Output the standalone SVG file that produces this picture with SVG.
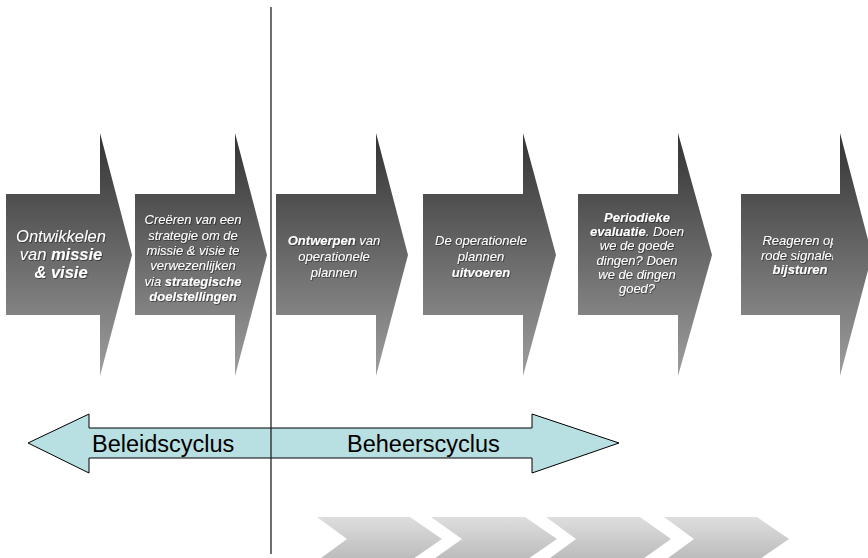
<svg xmlns="http://www.w3.org/2000/svg" width="868" height="558" viewBox="0 0 868 558">
  <defs>
    <linearGradient id="gDark" gradientUnits="userSpaceOnUse" x1="0" y1="133" x2="0" y2="376">
      <stop offset="0" stop-color="#333333"/>
      <stop offset="1" stop-color="#9e9e9e"/>
    </linearGradient>
    <linearGradient id="gLight" gradientUnits="userSpaceOnUse" x1="0" y1="517" x2="0" y2="561">
      <stop offset="0" stop-color="#dedede"/>
      <stop offset="1" stop-color="#bababa"/>
    </linearGradient>
    <filter id="sh" x="-10%" y="-10%" width="120%" height="130%">
      <feDropShadow dx="0.8" dy="0.8" stdDeviation="0.4" flood-color="#000" flood-opacity="0.55"/>
    </filter>
    <clipPath id="clip6"><rect x="740" y="200" width="93" height="100"/></clipPath>
  </defs>
  <style>
    .big { fill: url(#gDark); }
    .chev { fill: url(#gLight); }
    .t { font-family: "Liberation Sans", Arial, sans-serif; font-style: italic; fill: #ffffff; text-anchor: middle; filter: url(#sh); }
    .s13 { font-size: 13px; }
    .s17 { font-size: 16.5px; }
    .b { font-weight: bold; }
    .cyc { fill: #b8dfe1; stroke: #000000; stroke-width: 1; }
    .ct { font-family: "Liberation Sans", Arial, sans-serif; font-size: 23.5px; fill: #000000; }
    .vline { stroke: #222222; stroke-width: 1.3; fill: none; }
  </style>

  <g id="step1">
    <path class="big" d="M6,194 H100 V133 L132,255 L100,376 V315 H6 Z"/>
    <text class="t s17" x="61" y="242">Ontwikkelen</text>
    <text class="t s17" x="61" y="260">van <tspan class="b">missie</tspan></text>
    <text class="t s17 b" x="61" y="278">&amp; visie</text>
  </g>

  <g id="step2">
    <path class="big" d="M135,194 H235 V133 L267,255 L235,376 V315 H135 Z"/>
    <text class="t s13" x="193" y="224">Creëren van een</text>
    <text class="t s13" x="193" y="239.5">strategie om de</text>
    <text class="t s13" x="193" y="255">missie &amp; visie te</text>
    <text class="t s13" x="193" y="270">verwezenlijken</text>
    <text class="t s13" x="193" y="285.5">via <tspan class="b">strategische</tspan></text>
    <text class="t s13 b" x="193" y="301">doelstellingen</text>
  </g>

  <g id="step3">
    <path class="big" d="M276,194 H376 V133 L408,255 L376,376 V315 H276 Z"/>
    <text class="t s13" x="334" y="245"><tspan class="b">Ontwerpen</tspan> van</text>
    <text class="t s13" x="334" y="261">operationele</text>
    <text class="t s13" x="334" y="277">plannen</text>
  </g>

  <g id="step4">
    <path class="big" d="M423,194 H523 V133 L556,255 L523,376 V315 H423 Z"/>
    <text class="t s13" x="481" y="245">De operationele</text>
    <text class="t s13" x="481" y="261">plannen</text>
    <text class="t s13 b" x="481" y="277">uitvoeren</text>
  </g>

  <g id="step5">
    <path class="big" d="M578,194 H678 V133 L712,255 L678,376 V315 H578 Z"/>
    <text class="t s13 b" x="637" y="221.5">Periodieke</text>
    <text class="t s13" x="637" y="236"><tspan class="b">evaluatie</tspan>. Doen</text>
    <text class="t s13" x="637" y="250">we de goede</text>
    <text class="t s13" x="637" y="264.5">dingen? Doen</text>
    <text class="t s13" x="637" y="278.5">we de dingen</text>
    <text class="t s13" x="637" y="293">goed?</text>
  </g>

  <g id="step6">
    <path class="big" d="M741,194 H840 V133 L872,255 L840,376 V315 H741 Z"/>
    <g clip-path="url(#clip6)">
      <text class="t s13" x="800" y="245">Reageren op</text>
      <text class="t s13" x="800" y="259.5">rode signalen</text>
      <text class="t s13 b" x="800" y="274">bijsturen</text>
    </g>
  </g>

  <g id="cycles">
    <path class="cyc" d="M28,443 L89,414 V428 H532 V414 L619,443 L532,473 V458 H89 V473 Z"/>
    <text class="ct" x="92" y="452">Beleidscyclus</text>
    <text class="ct" x="347" y="452">Beheerscyclus</text>
  </g>

  <g id="chevrons">
    <path class="chev" d="M317,517 H410 L442,539 L410,561 H317 L347,539 Z"/>
    <path class="chev" d="M431,517 H525 L557,539 L525,561 H431 L462,539 Z"/>
    <path class="chev" d="M546,517 H640 L671,539 L640,561 H546 L576,539 Z"/>
    <path class="chev" d="M664,517 H757 L789,539 L757,561 H664 L694,539 Z"/>
  </g>

  <g id="connectors">
    <line class="vline" x1="271" y1="7" x2="271" y2="554"/>
  </g>
</svg>
